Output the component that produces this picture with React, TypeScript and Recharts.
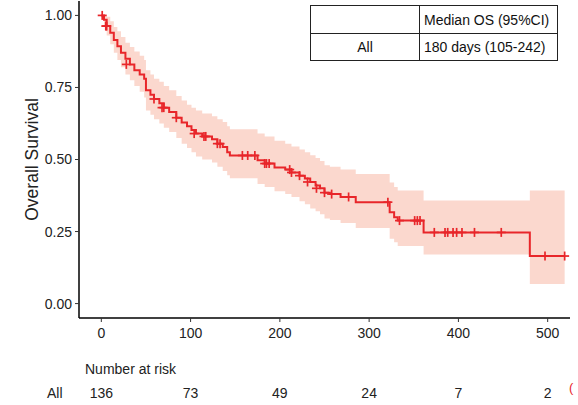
import React from 'react';
import { ComposedChart, Area, Line, Scatter, XAxis, YAxis } from 'recharts';

// Kaplan-Meier step curve (days, survival)
const stepTimes = [0, 3, 6, 10, 14, 18, 22, 27, 32, 37, 43, 48, 50, 55, 59, 65, 70, 76, 84, 90, 96, 101, 106, 113, 124, 130, 136, 141, 144, 175, 183, 194, 206, 213, 222, 228, 234, 240, 245, 250, 256, 268, 285, 323, 328, 332, 361, 480, 519];
const stepSurv = [1.0, 0.985, 0.963, 0.94, 0.915, 0.893, 0.87, 0.85, 0.83, 0.81, 0.795, 0.78, 0.74, 0.725, 0.71, 0.695, 0.68, 0.665, 0.645, 0.628, 0.615, 0.602, 0.59, 0.58, 0.57, 0.555, 0.543, 0.525, 0.514, 0.497, 0.486, 0.472, 0.465, 0.455, 0.444, 0.434, 0.422, 0.41, 0.4, 0.385, 0.38, 0.37, 0.352, 0.317, 0.3, 0.288, 0.247, 0.165, 0.165];
const stepLower = [1.0, 0.96, 0.93, 0.9, 0.87, 0.845, 0.82, 0.795, 0.775, 0.755, 0.735, 0.715, 0.67, 0.655, 0.64, 0.625, 0.61, 0.595, 0.575, 0.555, 0.54, 0.525, 0.51, 0.5, 0.49, 0.475, 0.46, 0.445, 0.435, 0.415, 0.405, 0.39, 0.38, 0.37, 0.355, 0.345, 0.33, 0.32, 0.31, 0.295, 0.29, 0.28, 0.262, 0.225, 0.213, 0.2, 0.17, 0.068, 0.068];
const stepUpper = [1.0, 1.0, 0.995, 0.98, 0.96, 0.945, 0.925, 0.905, 0.89, 0.875, 0.86, 0.845, 0.81, 0.795, 0.78, 0.77, 0.755, 0.74, 0.72, 0.705, 0.69, 0.68, 0.67, 0.66, 0.65, 0.64, 0.63, 0.615, 0.605, 0.59, 0.58, 0.565, 0.555, 0.545, 0.535, 0.525, 0.515, 0.505, 0.495, 0.48, 0.475, 0.465, 0.45, 0.42, 0.405, 0.392, 0.358, 0.392, 0.392];

// Censored observations
const censorTimes = [1, 5, 6, 28, 59, 68, 70, 84, 104, 115, 117, 130, 133, 158, 164, 172, 183, 185, 188, 211, 213, 222, 231, 241, 250, 258, 277, 321, 334, 351, 354, 357, 373, 385, 388, 394, 398, 404, 418, 448, 497, 519];
const censorSurv = [1.0, 0.963, 0.963, 0.83, 0.71, 0.68, 0.68, 0.645, 0.59, 0.58, 0.58, 0.555, 0.555, 0.514, 0.514, 0.514, 0.486, 0.486, 0.486, 0.465, 0.455, 0.444, 0.422, 0.4, 0.385, 0.38, 0.37, 0.352, 0.288, 0.288, 0.288, 0.288, 0.247, 0.247, 0.247, 0.247, 0.247, 0.247, 0.247, 0.247, 0.165, 0.165];

// Axis ticks and risk table
const xTicks = [0, 100, 200, 300, 400, 500];
const yTicks = [0, 0.25, 0.5, 0.75, 1.0];
const riskNumbers = [136, 73, 49, 24, 7, 2];

const RED = '#E8262A';
const BAND = '#FBD8CE';
const FONT = "'Liberation Sans', Arial, Helvetica, sans-serif";

const lineData = stepTimes.map((t, i) => ({ t, s: stepSurv[i] }));
const bandData = stepTimes.map((t, i) => ({ t, band: [stepLower[i], stepUpper[i]] }));
const censorData = censorTimes.map((t, i) => ({ t, s: censorSurv[i] }));

const Plus = (props: any) => {
  const { cx, cy } = props;
  if (cx == null || cy == null) return null;
  return (
    <g>
      <line x1={cx - 4.5} x2={cx + 4.5} y1={cy} y2={cy} stroke={RED} strokeWidth={1.7} />
      <line x1={cx} x2={cx} y1={cy - 4.5} y2={cy + 4.5} stroke={RED} strokeWidth={1.7} />
    </g>
  );
};

const cellStyle: React.CSSProperties = {
  border: '1.5px solid #222',
  padding: 0,
  fontFamily: FONT,
  fontSize: 14,
  color: '#111',
};

export default function App() {
  return (
    <div style={{ position: 'absolute', left: 0, top: 0, width: 578, height: 405, overflow: 'hidden', background: '#fff' }}>
      <ComposedChart width={578} height={405} margin={{ top: 1, right: 8, left: 0, bottom: 0 }}>
        <XAxis
          xAxisId={0}
          dataKey="t"
          type="number"
          domain={[-25, 525]}
          ticks={xTicks}
          allowDataOverflow
          height={60}
          tickSize={4}
          tickMargin={6}
          axisLine={{ stroke: '#000', strokeWidth: 1.5 }}
          tickLine={{ stroke: '#333' }}
          tick={{ fill: '#222', fontSize: 14, fontFamily: FONT }}
        />
        <XAxis
          xAxisId="risk"
          dataKey="t"
          type="number"
          domain={[-25, 525]}
          ticks={xTicks}
          allowDataOverflow
          height={27}
          tickSize={0}
          tickMargin={10}
          axisLine={false}
          tickLine={false}
          tickFormatter={(v: number) => String(riskNumbers[xTicks.indexOf(v)] ?? '')}
          tick={{ fill: '#222', fontSize: 14, fontFamily: FONT }}
        />
        <YAxis
          type="number"
          domain={[-0.05, 1.05]}
          ticks={yTicks}
          allowDataOverflow
          width={79}
          tickSize={4}
          tickMargin={3}
          axisLine={{ stroke: '#000', strokeWidth: 1.5 }}
          tickLine={{ stroke: '#333' }}
          tickFormatter={(v: number) => v.toFixed(2)}
          tick={{ fill: '#222', fontSize: 14, fontFamily: FONT }}
          label={{ value: 'Overall Survival', angle: -90, position: 'center', dx: -8, style: { fill: '#222', fontSize: 17.5, fontFamily: FONT } }}
        />
        <Area
          data={bandData}
          dataKey="band"
          type="stepAfter"
          stroke="none"
          fill={BAND}
          fillOpacity={1}
          isAnimationActive={false}
          activeDot={false}
        />
        <Line
          data={lineData}
          dataKey="s"
          type="stepAfter"
          stroke={RED}
          strokeWidth={2}
          dot={false}
          activeDot={false}
          isAnimationActive={false}
        />
        <Scatter data={censorData} dataKey="s" shape={<Plus />} isAnimationActive={false} />
      </ComposedChart>

      <table
        style={{
          position: 'absolute',
          left: 310,
          top: 5,
          width: 248,
          height: 55,
          borderCollapse: 'collapse',
          background: '#fff',
        }}
      >
        <tbody>
          <tr style={{ height: 28 }}>
            <td style={{ ...cellStyle, width: 108 }}></td>
            <td style={{ ...cellStyle, paddingLeft: 4 }}>Median OS (95%CI)</td>
          </tr>
          <tr style={{ height: 27 }}>
            <td style={{ ...cellStyle, textAlign: 'center' }}>All</td>
            <td style={{ ...cellStyle, paddingLeft: 4 }}>180 days (105-242)</td>
          </tr>
        </tbody>
      </table>

      <div style={{ position: 'absolute', left: 85, top: 360, fontFamily: FONT, fontSize: 14, color: '#222', lineHeight: '18px' }}>
        Number at risk
      </div>
      <div style={{ position: 'absolute', left: 47, top: 384, fontFamily: FONT, fontSize: 14, color: '#222', lineHeight: '18px' }}>
        All
      </div>
      <div style={{ position: 'absolute', left: 569, top: 380, fontFamily: FONT, fontSize: 13, color: RED, lineHeight: '16px' }}>
        (
      </div>
    </div>
  );
}
